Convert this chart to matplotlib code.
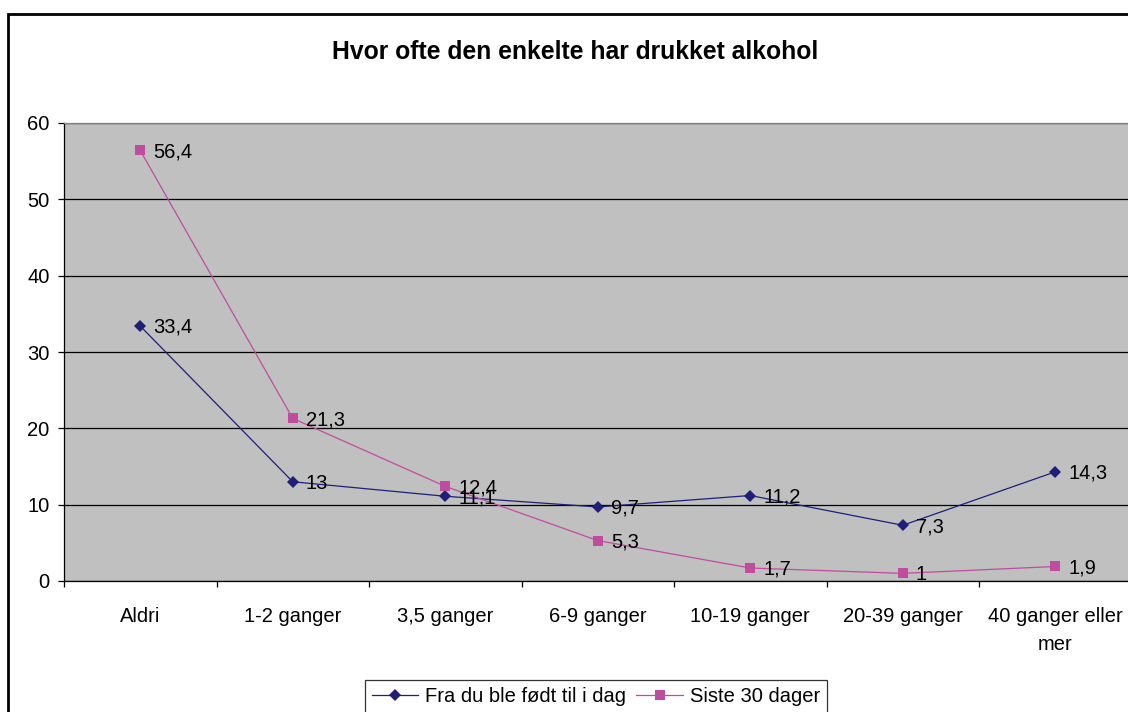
import matplotlib
matplotlib.use("Agg")
import matplotlib.pyplot as plt
from matplotlib.patches import Rectangle
from matplotlib.ticker import FixedLocator, NullFormatter

categories = ["Aldri", "1-2 ganger", "3,5 ganger", "6-9 ganger", "10-19 ganger",
              "20-39 ganger", "40 ganger eller\nmer"]
series_names = ["Fra du ble født til i dag", "Siste 30 dager"]
fra_fodt = [33.4, 13, 11.1, 9.7, 11.2, 7.3, 14.3]
siste_30 = [56.4, 21.3, 12.4, 5.3, 1.7, 1, 1.9]
title = "Hvor ofte den enkelte har drukket alkohol"

plt.rcParams['font.family'] = ['Liberation Sans', 'DejaVu Sans']

W, H = 1128, 712
fig = plt.figure(figsize=(W / 100, H / 100), dpi=100)
fig.patch.set_facecolor('white')

# figure border (cropped on right/bottom)
fig.patches.append(Rectangle((8 / W, -0.05), 1.2, (1 - 14 / H) + 0.05,
                             transform=fig.transFigure, fill=False,
                             edgecolor='black', linewidth=2.0, zorder=0))

left, right = 64 / W, 1131.5 / W
top, bottom = 1 - 123 / H, 1 - 581 / H
ax = fig.add_axes([left, bottom, right - left, top - bottom])
ax.set_facecolor('#C0C0C0')

n = len(categories)
x = list(range(n))
ax.set_xlim(-0.5, n - 0.5)
ax.set_ylim(0, 60)

navy = '#1F1F7A'
mag = '#C04CA0'
FS = 14.5
ax.plot(x, fra_fodt, color=navy, linewidth=0.9, marker='D', markersize=6.5,
        markeredgewidth=0, label=series_names[0], zorder=3, clip_on=False)
ax.plot(x, siste_30, color=mag, linewidth=0.9, marker='s', markersize=7,
        markeredgewidth=0, label=series_names[1], zorder=3, clip_on=False)


def fmt(v):
    return ('%g' % v).replace('.', ',')

for xs, ys in ((x, fra_fodt), (x, siste_30)):
    for xi, yi in zip(xs, ys):
        ax.annotate(fmt(yi), (xi, yi), xytext=(9.5, -1), textcoords='offset points',
                    ha='left', va='center', fontsize=FS, color='black', zorder=4)

ax.set_yticks(range(0, 61, 10))
ax.yaxis.grid(True, color='black', linewidth=0.9)
ax.set_axisbelow(True)
ax.tick_params(axis='y', labelsize=FS, length=4.5, width=0.9, pad=6, direction='out')

ax.xaxis.set_major_locator(FixedLocator([i - 0.5 for i in range(n + 1)]))
ax.xaxis.set_major_formatter(NullFormatter())
ax.set_xticks(x, minor=True)
ax.set_xticklabels(categories, minor=True, fontsize=FS, linespacing=1.6)
ax.tick_params(axis='x', which='major', length=4.5, width=0.9, direction='out')
ax.tick_params(axis='x', which='minor', length=0, pad=18.5)

ax.spines['top'].set_color('#808080')
ax.spines['right'].set_color('#808080')
ax.spines['left'].set_color('black')
ax.spines['bottom'].set_color('black')
for s in ax.spines.values():
    s.set_linewidth(0.9)

fig.text(575 / W, 1 - 52 / H, title, ha='center', va='center',
         fontsize=17.8, fontweight='bold')

leg = fig.legend(loc='upper center', bbox_to_anchor=(596 / W, 1 - 680 / H),
                 ncol=2, frameon=True, fancybox=False, fontsize=FS,
                 handlelength=2.3, handletextpad=0.35, columnspacing=0.5,
                 borderpad=0.35, borderaxespad=0)
leg.get_frame().set_edgecolor('black')
leg.get_frame().set_linewidth(0.9)

fig.savefig('out.png', dpi=100)
